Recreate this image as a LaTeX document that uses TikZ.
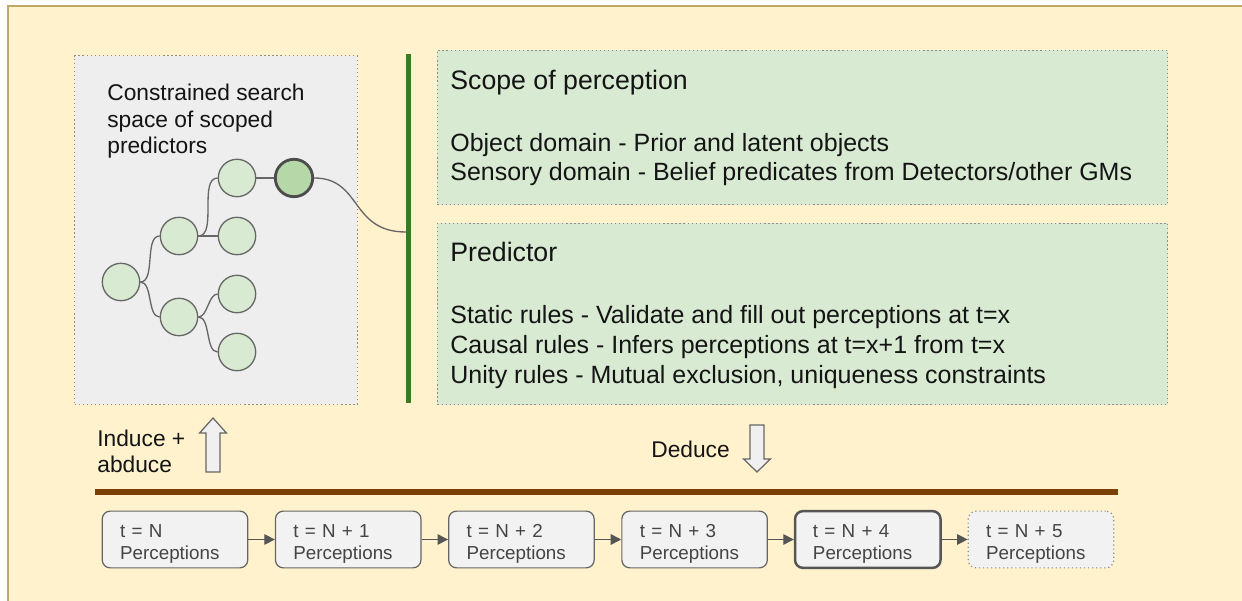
\documentclass[tikz,border=0pt]{standalone}
\usepackage{fontspec}
\setmainfont{Liberation Sans}
\usetikzlibrary{arrows.meta}

\definecolor{sheetfill}{HTML}{FFF2CC}
\definecolor{sheetline}{HTML}{BFA865}
\definecolor{spacefill}{HTML}{EEEEEE}
\definecolor{dotline}{HTML}{8C8C8C}
\definecolor{leaf}{HTML}{D9EAD3}
\definecolor{leafpick}{HTML}{B6D7A8}
\definecolor{leafline}{HTML}{666666}
\definecolor{barcol}{HTML}{3A7A21}
\definecolor{timeline}{HTML}{7B4006}
\definecolor{percfill}{HTML}{F2F2F2}
\definecolor{perctext}{HTML}{444444}
\definecolor{linkcol}{HTML}{555555}
\definecolor{blockfill}{HTML}{F0F0F0}

% first line of a perception box gets extra room above it
\newcommand{\firstrow}{\rule{0pt}{12.1pt}}

\begin{document}
\begin{tikzpicture}[x=0.02cm,y=-0.02cm,
  dotbox/.style={draw=dotline,line width=0.7pt,dash pattern=on 0.7pt off 1.6pt},
  tnode/.style={circle,draw=leafline,fill=leaf,line width=0.75pt,minimum size=21.3pt,inner sep=0pt},
  tpick/.style={tnode,fill=leafpick,draw=linkcol!90!black,line width=1.6pt},
  tedge/.style={draw=leafline,line width=0.75pt},
  headline/.style={font=\fontsize{15.2pt}{18pt}\selectfont,inner sep=0pt,anchor=base west,text=black!92},
  bodytext/.style={font=\fontsize{14.22pt}{17pt}\selectfont,align=left,inner sep=0pt,anchor=base west,text=black!92},
  sidetext/.style={font=\fontsize{12.95pt}{15.3pt}\selectfont,align=left,inner sep=0pt,anchor=base west,text=black!92},
  percbox/.style={draw=leafline,fill=percfill,rounded corners=4.5pt,line width=0.7pt,
    minimum width=82.8pt,minimum height=32.3pt,text width=62.4pt,inner xsep=10.2pt,inner ysep=0pt,
    align=left,font=\fontsize{10.7pt}{12.5pt}\selectfont,text=perctext},
  plink/.style={draw=linkcol,line width=0.75pt,-{Triangle[length=6pt,width=6pt]}},
  blockarrow/.style={draw=leafline,fill=blockfill,line width=0.7pt,line join=miter}
]
\useasboundingbox (0,0) rectangle (1242,601);
\clip (0,0) rectangle (1242,601);

% sheet
\draw[fill=sheetfill,draw=sheetline,line width=1.1pt] (8,6) rectangle (1300,660);

% search space panel
\node[dotbox,fill=spacefill,minimum width=161pt,minimum height=198.4pt,inner sep=0pt] (space) at (216,230) {};
\node[sidetext] (spacetext) at (107,154) {Constrained search\\space of scoped\\predictors};

% tree of predictors
\node[tnode] (root) at (121,282) {};
\node[tnode] (up)   at (179,236) {};
\node[tnode] (dn)   at (179,317) {};
\node[tnode] (ua)   at (237,178) {};
\node[tnode] (ub)   at (237,236) {};
\node[tnode] (da)   at (237,294) {};
\node[tnode] (db)   at (237,352) {};
\node[tpick] (pick) at (294,178) {};

\draw[tedge] (root) to[out=0,in=180,looseness=0.8] (up);
\draw[tedge] (root) to[out=0,in=180,looseness=0.8] (dn);
\draw[tedge] (up) to[out=0,in=180,looseness=0.8] (ua);
\draw[tedge] (up) -- (ub);
\draw[tedge] (dn) to[out=0,in=180,looseness=0.8] (da);
\draw[tedge] (dn) to[out=0,in=180,looseness=0.8] (db);
\draw[tedge] (ua) -- (pick);

% separator bar
\node[fill=barcol,minimum width=2.9pt,minimum height=198.9pt,inner sep=0pt] (bar) at (408.5,228.5) {};
\coordinate (barjoin) at (406,232);
\draw[tedge] (pick) .. controls (362,178) and (350,232) .. (barjoin);

% scope of perception
\node[dotbox,fill=leaf,minimum width=415.5pt,minimum height=87.9pt,inner sep=0pt] (scope) at (802.5,127.5) {};
\node[headline] (scopetitle) at (450,90) {Scope of perception};
\node[bodytext] (scopebody) at (450,181) {Object domain - Prior and latent objects\\Sensory domain - Belief predicates from Detectors/other GMs};

% predictor
\node[dotbox,fill=leaf,minimum width=415.5pt,minimum height=103.2pt,inner sep=0pt] (pred) at (802.5,314) {};
\node[headline] (predtitle) at (450,262) {Predictor};
\node[bodytext] (predbody) at (450,383.5) {Static rules - Validate and fill out perceptions at t=x\\Causal rules - Infers perceptions at t=x+1 from t=x\\Unity rules - Mutual exclusion, uniqueness constraints};

% induce / deduce
\node[sidetext] (induce) at (97,473) {Induce +\\abduce};
\draw[blockarrow] (213,418) -- (226.4,433) -- (220,433) -- (220,472) -- (206,472) -- (206,433) -- (199.6,433) -- cycle;
\node[sidetext] (deduce) at (651,458) {Deduce};
\draw[blockarrow] (757,472) -- (770.4,459) -- (764,459) -- (764,425) -- (750,425) -- (750,459) -- (743.6,459) -- cycle;

% time line
\draw[timeline,line width=3pt] (95,492) -- (1118,492);

% perceptions over time
\node[percbox] (p0) at (175,539.5) {\firstrow t = N\\Perceptions};
\node[percbox] (p1) at (348.2,539.5) {\firstrow t = N + 1\\Perceptions};
\node[percbox] (p2) at (521.4,539.5) {\firstrow t = N + 2\\Perceptions};
\node[percbox] (p3) at (694.6,539.5) {\firstrow t = N + 3\\Perceptions};
\node[percbox,line width=1.4pt,draw=linkcol] (p4) at (867.8,539.5) {\firstrow t = N + 4\\Perceptions};
\node[percbox,draw=dotline,dash pattern=on 0.7pt off 1.6pt] (p5) at (1041,539.5) {\firstrow t = N + 5\\Perceptions};

\draw[plink] (p0) -- (p1);
\draw[plink] (p1) -- (p2);
\draw[plink] (p2) -- (p3);
\draw[plink] (p3) -- (p4);
\draw[plink] (p4) -- (p5);
\end{tikzpicture}
\end{document}
